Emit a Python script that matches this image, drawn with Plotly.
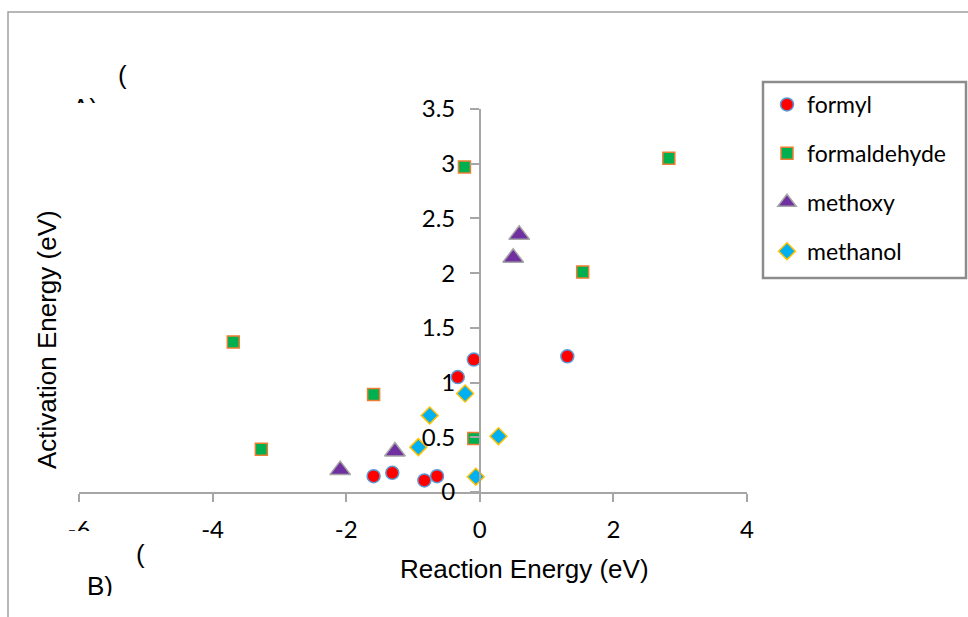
import plotly.graph_objects as go

# ---- data ----
formyl_x = [-1.59, -1.31, -0.83, -0.64, -0.33, -0.09, 1.31]
formyl_y = [0.145, 0.175, 0.106, 0.145, 1.05, 1.21, 1.24]

formaldehyde_x = [-3.69, -3.27, -1.59, -0.09, -0.23, 1.54, 2.83]
formaldehyde_y = [1.37, 0.39, 0.89, 0.49, 2.97, 2.01, 3.05]

methoxy_x = [-2.09, -1.27, 0.50, 0.59]
methoxy_y = [0.20, 0.37, 2.14, 2.35]

methanol_x = [-0.92, -0.75, -0.22, -0.06, 0.28]
methanol_y = [0.41, 0.70, 0.90, 0.14, 0.51]

x_tick_vals = [-6, -4, -2, 0, 2, 4]
x_tick_text = ["-6", "-4", "-2", "0", "2", "4"]
y_tick_vals = [0, 0.5, 1, 1.5, 2, 2.5, 3, 3.5]
y_tick_text = ["0", "0.5", "1", "1.5", "2", "2.5", "3", "3.5"]

# ---- layout geometry (pixels) ----
W, H = 968, 617
L, R = 79, 747      # x = -6 and x = 4
T, B = 109, 492     # y = 3.5 and y = 0


def px(xp):
    return (xp - L) / (R - L)


def py(yp):
    return (B - yp) / (B - T)


TICK_FONT = dict(family="Lato", size=24, color="black")
ARIAL = "Liberation Sans, Arial"

fig = go.Figure()

series = [
    ("formyl", formyl_x, formyl_y, "circle", 13, "#ff0000", "#5b9bd5"),
    ("formaldehyde", formaldehyde_x, formaldehyde_y, "square", 12, "#00b050", "#ed7d31"),
    ("methoxy", methoxy_x, methoxy_y, "triangle-up", 18, "#7030a0", "#a5a5a5"),
    ("methanol", methanol_x, methanol_y, "diamond", 13, "#00b0f0", "#ffc000"),
]
for name, xs, ys, sym, size, fill, edge in series:
    fig.add_trace(go.Scatter(
        x=xs, y=ys, mode="markers", name=name, legendgroup=name,
        marker=dict(symbol=sym, size=size, color=fill,
                    line=dict(color=edge, width=1.5)),
        cliponaxis=False,
    ))

fig.update_layout(
    width=W, height=H,
    margin=dict(l=L, r=W - R, t=T, b=H - B),
    paper_bgcolor="white", plot_bgcolor="white",
    showlegend=True,
    legend=dict(
        x=px(767), y=py(83), xanchor="left", yanchor="top",
        font=dict(family="Lato", size=23, color="black"),
        tracegroupgap=16, traceorder="grouped", itemwidth=30,
        bgcolor="rgba(0,0,0,0)", borderwidth=0,
    ),
    xaxis=dict(
        range=[-6, 4], tickvals=x_tick_vals, ticktext=x_tick_text,
        showgrid=False, zeroline=False,
        showline=True, linecolor="#a6a6a6", linewidth=1.5,
        ticks="outside", ticklen=8, tickcolor="#a6a6a6", tickwidth=1.5,
        tickfont=TICK_FONT, ticklabelstandoff=7,
    ),
    yaxis=dict(
        range=[0, 3.5], tickvals=y_tick_vals, ticktext=y_tick_text,
        anchor="free", position=0.6,
        showgrid=False, zeroline=False,
        showline=True, linecolor="#a6a6a6", linewidth=1.5,
        ticks="outside", ticklen=9, tickcolor="#a6a6a6", tickwidth=1.5,
        tickfont=TICK_FONT, ticklabelstandoff=10,
    ),
)

# outer frame (extends beyond right/bottom edges) and legend box
fig.add_shape(type="rect", xref="paper", yref="paper",
              x0=px(8), x1=px(990), y0=py(640), y1=py(12),
              line=dict(color="#a0a0a0", width=1.5), fillcolor="rgba(0,0,0,0)",
              layer="below")
fig.add_shape(type="rect", xref="paper", yref="paper",
              x0=px(763), x1=px(966), y0=py(278), y1=py(82),
              line=dict(color="#8c8c8c", width=2.5), fillcolor="rgba(0,0,0,0)")

# axis titles
fig.add_annotation(text="Reaction Energy (eV)", xref="paper", yref="paper",
                   x=px(524), y=py(569), xanchor="center", yanchor="middle",
                   showarrow=False, font=dict(family=ARIAL, size=26, color="black"))
fig.add_annotation(text="Activation Energy (eV)", xref="paper", yref="paper",
                   x=px(47), y=py(340), xanchor="center", yanchor="middle",
                   textangle=-90, showarrow=False,
                   font=dict(family=ARIAL, size=26, color="black"))

# panel labels (partially hidden like the reference)
lab_font = dict(family=ARIAL, size=26, color="black")
fig.add_annotation(text="(", xref="paper", yref="paper", x=px(122), y=py(75),
                   xanchor="center", yanchor="middle", showarrow=False, font=lab_font)
fig.add_annotation(text="A)", xref="paper", yref="paper", x=px(70), y=py(108),
                   xanchor="left", yanchor="middle", showarrow=False, font=lab_font)
fig.add_annotation(text="(", xref="paper", yref="paper", x=px(140), y=py(554),
                   xanchor="center", yanchor="middle", showarrow=False, font=lab_font)
fig.add_annotation(text="B)", xref="paper", yref="paper", x=px(85), y=py(586),
                   xanchor="left", yanchor="middle", showarrow=False, font=lab_font)

# white covers that hide part of the labels
def cover(x0, y0, w, h):
    fig.add_annotation(text=" ", xref="paper", yref="paper", x=px(x0), y=py(y0),
                       xanchor="left", yanchor="top", width=w, height=h,
                       bgcolor="white", borderpad=0, borderwidth=0,
                       showarrow=False, font=dict(size=2))

cover(62, 531, 36, 16)   # lower part of "-6"
cover(64, 103, 44, 24)   # lower part of "A)"
cover(82, 596, 40, 14)   # bottom of "B)"

fig.write_html("out.html")
